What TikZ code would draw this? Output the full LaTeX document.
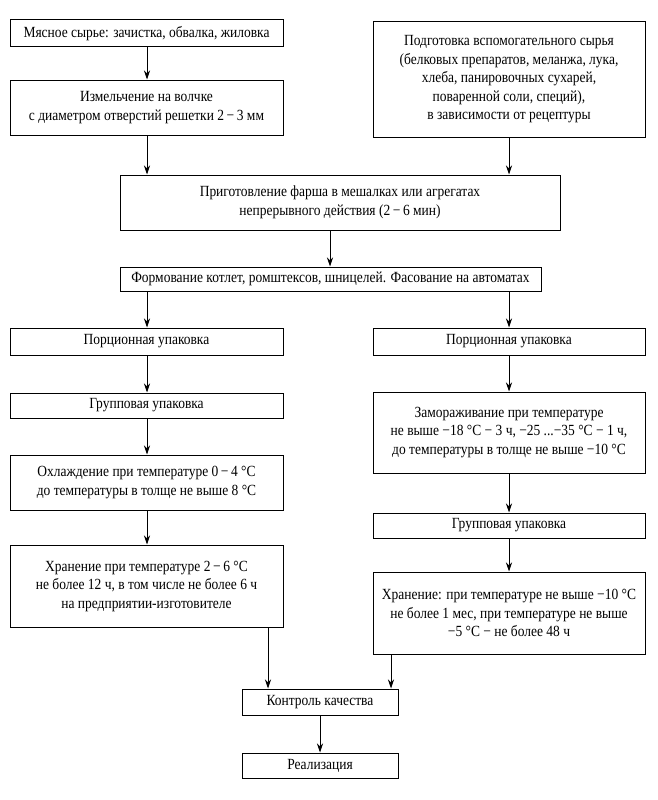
\documentclass[tikz,border=0pt]{standalone}
\usepackage{fontspec}
\setmainfont[FakeStretch=0.87]{Liberation Serif}
\usetikzlibrary{arrows.meta}
\begin{document}
\begin{tikzpicture}[x=1pt,y=-1pt,
  box/.style={draw, line width=1pt, rectangle, inner sep=0pt, align=center,
    font=\fontsize{15.5}{18.5}\selectfont},
  arr/.style={line width=0.9pt, -{Stealth[length=9pt,width=6pt]}}]
\useasboundingbox (0,0) rectangle (657,800);
\coordinate (xl) at (147,0);
\coordinate (xr) at (509,0);
\coordinate (xc) at (330,0);
\coordinate (xk1) at (268,0);
\coordinate (xk2) at (391,0);
\coordinate (xk3) at (320,0);

\node[box, minimum width=273pt, minimum height=27pt] (m1) at (146.5,33.5)
  {Мясное сырье: зачистка, обвалка, жиловка};
\node[box, minimum width=273pt, minimum height=55pt] (m2) at (146.5,107.5)
  {Измельчение на волчке\\с диаметром отверстий решетки 2\,−\,3 мм};
\node[box, minimum width=272pt, minimum height=115pt] (aux) at (509,79.5)
  {Подготовка вспомогательного сырья\\(белковых препаратов, меланжа, лука,\\хлеба, панировочных сухарей,\\поваренной соли, специй),\\в зависимости от рецептуры};
\node[box, minimum width=440pt, minimum height=55pt] (mix) at (340,202.5)
  {Приготовление фарша в мешалках или агрегатах\\непрерывного действия (2\,−\,6 мин)};
\node[box, minimum width=421pt, minimum height=24pt] (form) at (330.5,279)
  {Формование котлет, ромштексов, шницелей. Фасование на автоматах};

\node[box, minimum width=273pt, minimum height=27pt] (l1) at (146.5,341.5)
  {Порционная упаковка};
\node[box, minimum width=273pt, minimum height=25pt] (l2) at (146.5,405.5)
  {Групповая упаковка};
\node[box, minimum width=273pt, minimum height=55pt] (l3) at (146.5,482.5)
  {Охлаждение при температуре 0\,−\,4 °С\\до температуры в толще не выше 8 °С};
\node[box, minimum width=273pt, minimum height=82pt] (l4) at (146.5,586)
  {Хранение при температуре 2\,−\,6 °С\\не более 12 ч, в том числе не более 6 ч\\на предприятии-изготовителе};

\node[box, minimum width=272pt, minimum height=27pt] (r1) at (509,341.5)
  {Порционная упаковка};
\node[box, minimum width=272pt, minimum height=81pt] (r2) at (509,432.5)
  {Замораживание при температуре\\не выше −18 °С − 3 ч, −25 ...−35 °С − 1 ч,\\до температуры в толще не выше −10 °С};
\node[box, minimum width=272pt, minimum height=25pt] (r3) at (509,525.5)
  {Групповая упаковка};
\node[box, minimum width=272pt, minimum height=82pt] (r4) at (509,613)
  {Хранение: при температуре не выше −10 °С\\не более 1 мес, при температуре не выше\\−5 °С − не более 48 ч};

\node[box, minimum width=156pt, minimum height=26pt] (k) at (320,702)
  {Контроль качества};
\node[box, minimum width=156pt, minimum height=25pt] (re) at (320,765.5)
  {Реализация};

\draw[arr] (m1.south -| xl) -- (m2.north -| xl);
\draw[arr] (m2.south -| xl) -- (mix.north -| xl);
\draw[arr] (aux.south -| xr) -- (mix.north -| xr);
\draw[arr] (mix.south -| xc) -- (form.north -| xc);
\draw[arr] (form.south -| xl) -- (l1.north -| xl);
\draw[arr] (form.south -| xr) -- (r1.north -| xr);
\draw[arr] (l1.south -| xl) -- (l2.north -| xl);
\draw[arr] (l2.south -| xl) -- (l3.north -| xl);
\draw[arr] (l3.south -| xl) -- (l4.north -| xl);
\draw[arr] (r1.south -| xr) -- (r2.north -| xr);
\draw[arr] (r2.south -| xr) -- (r3.north -| xr);
\draw[arr] (r3.south -| xr) -- (r4.north -| xr);
\draw[arr] (l4.south -| xk1) -- (k.north -| xk1);
\draw[arr] (r4.south -| xk2) -- (k.north -| xk2);
\draw[arr] (k.south -| xk3) -- (re.north -| xk3);
\end{tikzpicture}
\end{document}
